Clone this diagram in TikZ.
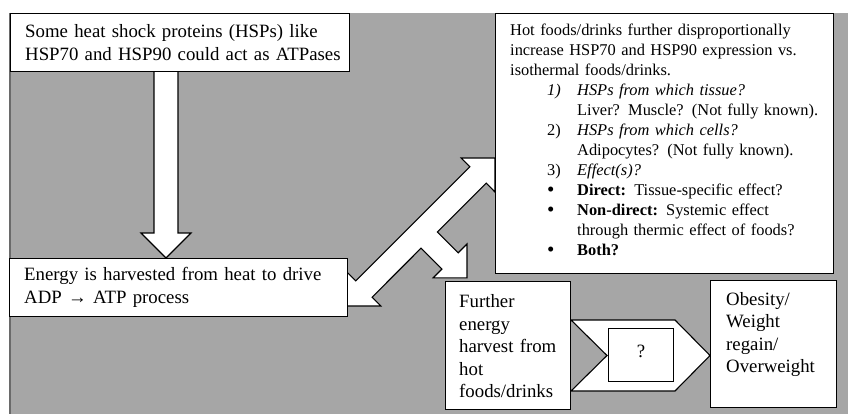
\documentclass[tikz,border=0pt]{standalone}
\usepackage{fontspec}
\setmainfont{Liberation Serif}
\usetikzlibrary{calc}
\definecolor{bggray}{HTML}{A6A6A6}
\definecolor{edgegray}{HTML}{6A6A6A}
\newcommand{\bigbul}{\makebox[30pt][l]{\raisebox{-0.6pt}{\fontsize{21}{20}\selectfont •}}}
\begin{document}
\begin{tikzpicture}[x=1pt,y=-1pt,
  box/.style={draw=black, line width=1.1pt, fill=white, inner sep=0pt, anchor=north west},
  blk/.style={draw=black, line width=1.1pt, fill=white, line join=miter},
  big/.style={font=\fontsize{18.8}{22.5}\selectfont, inner sep=0pt, align=left},
  small/.style={font=\fontsize{16.4}{20}\selectfont, inner sep=0pt, align=left},
]
\useasboundingbox (0,0) rectangle (848,414);
% background
\fill[bggray] (10,13) rectangle (848,414);
\draw[edgegray, line width=1.3pt] (10,13) -- (10,414);

% block arrows (drawn below the boxes)
\draw[blk] (154,70) -- (178,70) -- (178,233) -- (191,233) -- (166,258)
  -- (141,233) -- (154,233) -- cycle;
\draw[blk] (347,306) -- (380.9,306) -- (372.1,297.2) -- (421.0,248.2)
  -- (441.9,269.1) -- (433.1,277.9) -- (467.0,277.9) -- (467.0,244.0)
  -- (458.2,252.8) -- (437.3,232.0) -- (486.2,183.1) -- (495.0,192.0)
  -- (495.0,158.0) -- (461.1,158.0) -- (469.9,166.8) -- (355.8,280.9)
  -- (347,272.1) -- cycle;
\draw[blk] (571,320) -- (675,320) -- (710,355.5) -- (675,391) -- (571,391)
  -- (607,355.5) -- cycle;

% boxes
\node[box, minimum width=339pt, minimum height=58pt] (hsp) at (10,13) {};
\node[big, anchor=west, text width=325pt] (hsptxt) at ($(hsp.west)+(15,0)$)
  {Some heat shock proteins (HSPs) like\\HSP70 and HSP90 could act as ATPases};

\node[box, minimum width=338pt, minimum height=58pt] (energy) at (9,258) {};
\node[big, anchor=west, text width=315pt] (energytxt) at ($(energy.west)+(15,0)$)
  {Energy is harvested from heat to drive\\ADP → ATP process};

\node[box, minimum width=338pt, minimum height=260pt] (hot) at (495,13) {};
\node[small, anchor=north west, text width=320pt] (hottxt) at (510,24)
  {Hot foods/drinks further disproportionally\\
   increase HSP70 and HSP90 expression vs.\\
   isothermal foods/drinks.\\
   \hspace*{37pt}\makebox[30pt][l]{\textit{1)}}\textit{HSPs from which tissue?}\\
   \hspace*{67pt}Liver? Muscle? (Not fully known).\\
   \hspace*{37pt}\makebox[30pt][l]{2)}\textit{HSPs from which cells?}\\
   \hspace*{67pt}Adipocytes? (Not fully known).\\
   \hspace*{37pt}\makebox[30pt][l]{3)}\textit{Effect(s)?}\\
   \hspace*{37pt}\bigbul\textbf{Direct:} Tissue-specific effect?\\
   \hspace*{37pt}\bigbul\textbf{Non-direct:} Systemic effect\\
   \hspace*{67pt}through thermic effect of foods?\\
   \hspace*{37pt}\bigbul\textbf{Both?}};

\node[box, minimum width=125pt, minimum height=128pt] (further) at (445,281) {};
\node[big, anchor=west, text width=105pt] (furthertxt) at ($(further.west)+(14,1)$)
  {Further\\energy\\harvest from\\hot\\foods/drinks};

\node[box, minimum width=65pt, minimum height=53pt] (q) at (608,328) {};
\node[big, anchor=center] (qtxt) at ($(q.center)+(0,-4)$) {?};

\node[box, minimum width=126pt, minimum height=127pt] (obese) at (710,280) {};
\node[big, anchor=north west, text width=105pt] (obesetxt) at ($(obese.north west)+(16,12)$)
  {Obesity/\\Weight\\regain/\\Overweight};
\end{tikzpicture}
\end{document}
